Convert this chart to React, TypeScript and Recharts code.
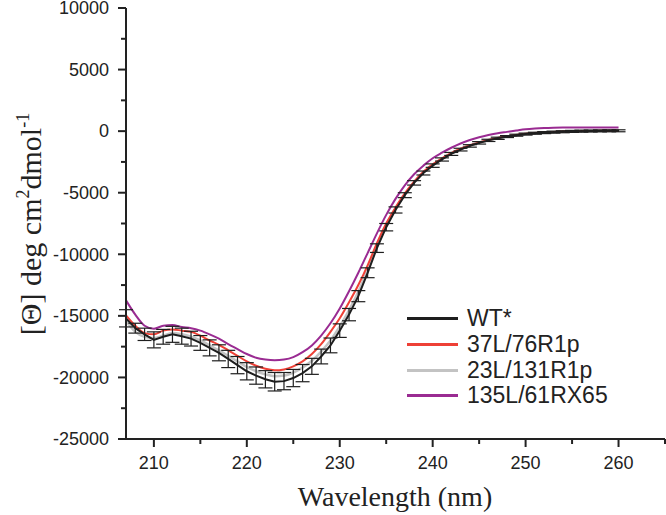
import React from 'react';
import { LineChart, Line, XAxis, YAxis, ErrorBar, Label } from 'recharts';

// wavelength (nm), one reading per nm
const wavelengths = [
  207, 208, 209, 210, 211, 212, 213, 214, 215, 216, 217, 218, 219, 220, 221, 222, 223, 224,
  225, 226, 227, 228, 229, 230, 231, 232, 233, 234, 235, 236, 237, 238, 239, 240, 241, 242,
  243, 244, 245, 246, 247, 248, 249, 250, 251, 252, 253, 254, 255, 256, 257, 258, 259, 260,
];

const wt = [
  -15200, -16000, -16500, -16950, -16700, -16500, -16650, -16850, -17200, -17600, -18000, -18500,
  -19000, -19500, -19850, -20150, -20350, -20300, -20050, -19650, -19100, -18300, -17400, -16200,
  -14900, -13400, -11500, -9500, -7800, -6400, -5200, -4200, -3400, -2800, -2300, -1850,
  -1500, -1200, -950, -750, -580, -440, -330, -240, -170, -120, -80, -50, -20, 0, 10, 20, 25, 30,
];

const wtErr = [
  700, 400, 500, 650, 600, 650, 650, 600, 600, 650, 650, 700,
  700, 700, 700, 700, 750, 700, 700, 700, 650, 600, 600, 550,
  500, 450, 400, 350, 300, 250, 200, 180, 160, 140, 130, 120,
  110, 100, 100, 90, 90, 80, 80, 80, 80, 80, 80, 80, 80, 80, 80, 80, 80, 80,
];

const l37 = [
  -14960, -15800, -16400, -16500, -16200, -16100, -16200, -16300, -16600, -17000, -17350, -17800,
  -18250, -18700, -19050, -19300, -19420, -19350, -19100, -18700, -18100, -17300, -16300, -15200,
  -13900, -12500, -10900, -9100, -7500, -6200, -5050, -4100, -3300, -2700, -2200, -1780,
  -1430, -1150, -910, -710, -550, -420, -310, -220, -150, -100, -60, -30, -10, 10, 20, 30, 35, 40,
];

const l23 = [
  -15400, -16300, -16700, -16800, -16600, -16400, -16500, -16700, -17000, -17400, -17800, -18250,
  -18700, -19150, -19500, -19750, -19900, -19850, -19600, -19200, -18650, -17900, -17000, -15850,
  -14550, -13050, -11250, -9350, -7700, -6300, -5150, -4150, -3350, -2750, -2250, -1800,
  -1450, -1170, -920, -720, -560, -430, -320, -230, -160, -110, -70, -40, -15, 5, 15, 25, 30, 35,
];

const l135 = [
  -13740, -14900, -15800, -16050, -15800, -15750, -15900, -16000, -16200, -16500, -16850, -17300,
  -17700, -18100, -18400, -18550, -18610, -18550, -18350, -17950, -17400, -16600, -15600, -14400,
  -13000, -11500, -9900, -8300, -6800, -5500, -4400, -3500, -2800, -2200, -1750, -1350,
  -1000, -720, -500, -320, -170, -60, 50, 150, 210, 250, 275, 290, 300, 300, 300, 300, 300, 300,
];

const xTicks = [210, 215, 220, 225, 230, 235, 240, 245, 250, 255, 260, 265];
const yTicks = [
  -25000, -22500, -20000, -17500, -15000, -12500, -10000, -7500, -5000, -2500, 0, 2500, 5000, 7500, 10000,
];

const seriesInfo = [
  { key: 'wt', name: 'WT*', color: '#1e1e1e' },
  { key: 'l37', name: '37L/76R1p', color: '#ee4036' },
  { key: 'l23', name: '23L/131R1p', color: '#c3c3c3' },
  { key: 'l135', name: '135L/61RX65', color: '#9a2b92' },
];

const data = wavelengths.map((nm, i) => ({
  nm,
  wt: wt[i],
  wtErr: wtErr[i],
  l37: l37[i],
  l23: l23[i],
  l135: l135[i],
}));

const sans = '"Liberation Sans", Arial, sans-serif';
const serif = '"Liberation Serif", "Times New Roman", serif';
const ink = '#222';

const XTick = (props: any) => {
  const { x, y, payload } = props;
  const v = payload.value;
  const major = v % 10 === 0;
  return (
    <g>
      <line x1={x} x2={x} y1={y} y2={y + (major ? 8 : 5)} stroke={ink} strokeWidth={2} />
      {major && (
        <text x={x} y={y + 30} textAnchor="middle" fontFamily={sans} fontSize={18} fill={ink}>
          {v}
        </text>
      )}
    </g>
  );
};

const YTick = (props: any) => {
  const { x, y, payload } = props;
  const v = payload.value;
  const major = v % 5000 === 0;
  return (
    <g>
      <line x1={x} x2={x - (major ? 8 : 5)} y1={y} y2={y} stroke={ink} strokeWidth={2} />
      {major && (
        <text x={x - 17} y={y} dy="0.35em" textAnchor="end" fontFamily={sans} fontSize={18} fill={ink}>
          {v}
        </text>
      )}
    </g>
  );
};

const LegendBox = () => (
  <div
    style={{
      position: 'absolute',
      left: 407,
      top: 306,
      fontFamily: sans,
      fontSize: 23,
      color: ink,
    }}
  >
    {seriesInfo.map((s) => (
      <div key={s.key} style={{ display: 'flex', alignItems: 'center', height: 25.7 }}>
        <div style={{ width: 51, height: 3, background: s.color, marginRight: 9 }} />
        <span style={{ lineHeight: '25px' }}>{s.name}</span>
      </div>
    ))}
  </div>
);

export default function App() {
  return (
    <div style={{ position: 'absolute', left: 0, top: 0, width: 666, height: 515, background: '#fff' }}>
      <LineChart width={666} height={515} data={data} margin={{ top: 8, right: 1, left: 0, bottom: 0 }}>
        <XAxis
          dataKey="nm"
          type="number"
          domain={[207, 265]}
          ticks={xTicks}
          interval={0}
          tickSize={0}
          tickMargin={0}
          tick={<XTick />}
          axisLine={{ stroke: ink, strokeWidth: 2 }}
          height={76}
        >
          <Label
            content={() => (
              <text x={395} y={506} textAnchor="middle" fontFamily={serif} fontSize={28} fill={ink}>
                Wavelength (nm)
              </text>
            )}
          />
        </XAxis>
        <YAxis
          type="number"
          domain={[-25000, 10000]}
          ticks={yTicks}
          interval={0}
          tickSize={0}
          tickMargin={0}
          tick={<YTick />}
          axisLine={{ stroke: ink, strokeWidth: 2 }}
          width={126}
        >
          <Label
            content={() => (
              <text
                transform="translate(41,224) rotate(-90)"
                textAnchor="middle"
                fontFamily={serif}
                fontSize={30}
                fill={ink}
              >
                [Θ] deg cm
                <tspan dy={-12} fontSize={18}>2</tspan>
                <tspan dy={12}>dmol</tspan>
                <tspan dy={-12} fontSize={18}>-1</tspan>
              </text>
            )}
          />
        </YAxis>
        <Line
          dataKey="l23"
          name="23L/131R1p"
          stroke="#c3c3c3"
          strokeWidth={2.5}
          dot={false}
          type="monotone"
          isAnimationActive={false}
        />
        <Line
          dataKey="l37"
          name="37L/76R1p"
          stroke="#ee4036"
          strokeWidth={2}
          dot={false}
          type="monotone"
          isAnimationActive={false}
        />
        <Line
          dataKey="l135"
          name="135L/61RX65"
          stroke="#9a2b92"
          strokeWidth={2}
          dot={false}
          type="monotone"
          isAnimationActive={false}
        />
        <Line
          dataKey="wt"
          name="WT*"
          stroke="#1e1e1e"
          strokeWidth={2}
          dot={false}
          type="linear"
          isAnimationActive={false}
        >
          <ErrorBar dataKey="wtErr" width={7} strokeWidth={1.2} stroke="#1e1e1e" isAnimationActive={false} />
        </Line>
      </LineChart>
      <LegendBox />
    </div>
  );
}
